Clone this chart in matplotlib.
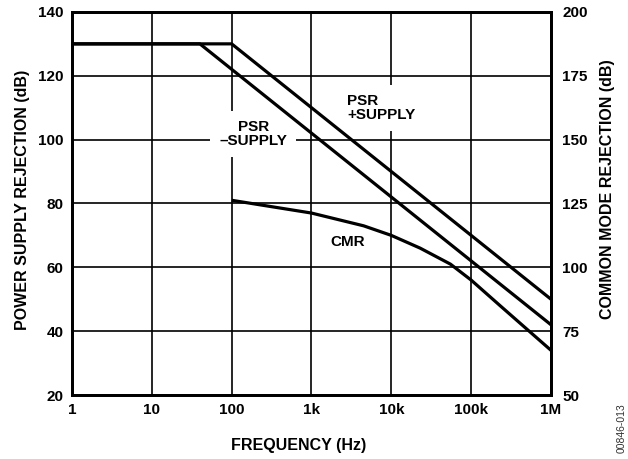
import matplotlib
matplotlib.use('Agg')
import matplotlib.pyplot as plt
import numpy as np

plt.rcParams['font.family'] = ['Liberation Sans', 'DejaVu Sans']
plt.rcParams['font.weight'] = 'bold'

# data (left axis dB)
psr_pos_f = [1, 100, 1e6]
psr_pos_db = [130, 130, 50]

psr_neg_f = [1, 40, 1e6]
psr_neg_db = [130, 130, 42]

cmr_f = [100, 1e3, 4.5e3, 1e4, 2.3e4, 5.5e4, 1e5, 2.3e5, 1e6]
cmr_db = [81, 77, 73, 70, 66, 61, 56, 48, 34]

xticks = [1, 10, 100, 1e3, 1e4, 1e5, 1e6]
xticklabels = ['1', '10', '100', '1k', '10k', '100k', '1M']
left_ticks = [20, 40, 60, 80, 100, 120, 140]
right_ticks = [50, 75, 100, 125, 150, 175, 200]

fig = plt.figure(figsize=(6.28, 4.59), dpi=100)
ax = fig.add_axes([0.1146, 0.1394, 0.7628, 0.8346])

ax.set_xscale('log')
ax.set_xlim(1, 1e6)
ax.set_ylim(20, 140)
ax.set_xticks(xticks)
ax.set_xticklabels(xticklabels)
ax.minorticks_off()
ax.set_yticks(left_ticks)
ax.grid(True, color='black', linewidth=1.2, zorder=1)
ax.set_axisbelow(True)
ax.tick_params(length=0, labelsize=11, pad=6)
for s in ax.spines.values():
    s.set_linewidth(2)

lw = 2.3
ax.plot(psr_pos_f, psr_pos_db, color='black', linewidth=lw, zorder=3, solid_capstyle='butt')
ax.plot(psr_neg_f, psr_neg_db, color='black', linewidth=lw, zorder=3, solid_capstyle='butt')
ax.plot(cmr_f, cmr_db, color='black', linewidth=lw, zorder=3, solid_capstyle='butt')

box = dict(facecolor='white', edgecolor='none', pad=6.5)
ax.text(186, 101.8, 'PSR\n\u2013SUPPLY', ha='center', va='center', fontsize=11,
        fontweight='bold', linespacing=1.05, bbox=box, zorder=2)
ax.text(2800, 109.9, 'PSR\n+SUPPLY', ha='left', va='center', fontsize=11,
        fontweight='bold', linespacing=1.05, bbox=box, zorder=2)
ax.text(2880, 67.9, 'CMR', ha='center', va='center', fontsize=11, fontweight='bold', zorder=2)

ax.set_xlabel('FREQUENCY (Hz)', fontsize=11.5, fontweight='bold')
ax.xaxis.set_label_coords(0.474, -0.112)
ax.set_ylabel('POWER SUPPLY REJECTION (dB)', fontsize=11.5, fontweight='bold')
ax.yaxis.set_label_coords(-0.0877, 0.509)

ax2 = ax.twinx()
ax2.set_ylim(50, 200)
ax2.set_yticks(right_ticks)
ax2.tick_params(length=0, labelsize=11, pad=8)
for s in ax2.spines.values():
    s.set_linewidth(2)
ax2.set_ylabel('COMMON MODE REJECTION (dB)', fontsize=11.5, fontweight='bold')
ax2.yaxis.set_label_coords(1.102, 0.538)

fig.text(0.99, 0.068, '00846-013', rotation=90, fontsize=7.5, fontweight='normal',
         ha='center', va='center', color='#333333')

fig.savefig('out.png', dpi=100)
